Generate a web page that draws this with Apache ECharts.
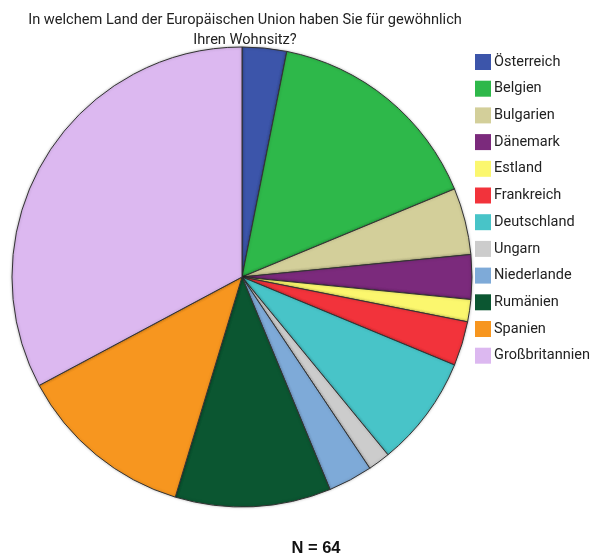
<!DOCTYPE html>
<html>
<head>
<meta charset="utf-8">
<script src="https://cdn.jsdelivr.net/npm/echarts@6/dist/echarts.min.js"></script>
<style>html,body{margin:0;padding:0;background:#fff}#c{width:597px;height:558px}</style>
</head>
<body>
<div id="c"></div>
<script>
const categories = ['Österreich','Belgien','Bulgarien','Dänemark','Estland','Frankreich','Deutschland','Ungarn','Niederlande','Rumänien','Spanien','Großbritannien'];
const counts = [2,10,3,2,1,2,5,1,2,7,8,21];
const colors = ['#3c55aa','#2eb84a','#d3cf9a','#7b2a7c','#fbf76e','#f2333b','#48c4c8','#cccccc','#7eaad8','#0b5631','#f7961f','#dcb8f0'];
const titleText = 'In welchem Land der Europäischen Union haben Sie für gewöhnlich\nIhren Wohnsitz?';
const footText = 'N = 64';

const chart = echarts.init(document.getElementById('c'));
chart.setOption({
  animation: false,
  color: colors,
  title: [{
    text: titleText,
    left: 240, top: 5, textAlign: 'center',
    textStyle: {fontFamily: 'Roboto', fontWeight: 'normal', fontSize: 14.6, color: '#222', lineHeight: 20}
  },{
    text: footText,
    left: 311, top: 535, textAlign: 'center',
    textStyle: {fontFamily: 'Liberation Sans', fontWeight: 'bold', fontSize: 16.5, color: '#111'}
  }],
  legend: {
    orient: 'vertical', left: 470, top: 49,
    itemWidth: 16, itemHeight: 16, itemGap: 10.7,
    icon: 'rect',
    itemStyle: {borderWidth: 0},
    textStyle: {fontFamily: 'Roboto', fontSize: 14.5, color: '#222', lineHeight: 16, padding: [0,0,0,-2]},
    data: categories
  },
  series: [{
    type: 'pie',
    center: [242, 277],
    radius: 230,
    startAngle: 90,
    clockwise: true,
    label: {show: false},
    labelLine: {show: false},
    itemStyle: {borderColor: '#333', borderWidth: 1, shadowColor: 'rgba(0,0,0,0.25)', shadowBlur: 3},
    emphasis: {disabled: true},
    data: categories.map((n, i) => ({name: n, value: counts[i]}))
  }]
});
</script>
</body>
</html>
